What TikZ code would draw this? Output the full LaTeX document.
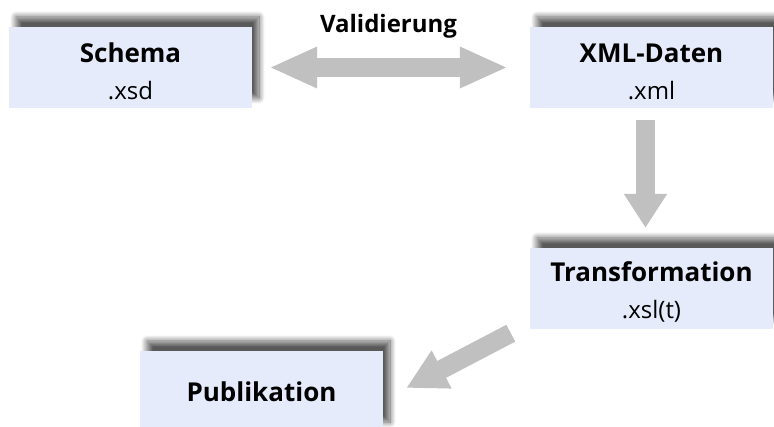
\documentclass[tikz,border=0pt]{standalone}
\usepackage{fontspec}
\setmainfont{Open Sans}
\usetikzlibrary{arrows.meta,shadows.blur}

\definecolor{boxfill}{RGB}{230,235,252}
\definecolor{arrowgray}{RGB}{192,192,192}

\tikzset{
	docbox/.style={fill=boxfill, minimum width=243pt, minimum height=81pt, inner sep=0pt, align=center,
		font=\fontsize{24}{37}\selectfont,
		blur shadow={shadow xshift=7pt, shadow yshift=10pt, shadow blur radius=6pt, shadow blur steps=12, shadow opacity=65}},
	blockarrow/.style={draw=arrowgray, line width=19pt},
}
\newcommand{\boxtitle}[1]{{\fontsize{26}{37}\selectfont\bfseries #1}}
\newcommand{\topstrut}{\rule{0pt}{27pt}}

\begin{document}
\begin{tikzpicture}[x=1pt,y=1pt]
	\useasboundingbox (0,0) rectangle (774,426);

\node[docbox] (schema) at (130.5,358.5) {\topstrut\boxtitle{Schema}\\.xsd};
\node[docbox] (xml) at (651.5,358.5) {\topstrut\boxtitle{XML-Daten}\\.xml};
\node[docbox] (trans) at (651.5,137.5) {\topstrut\boxtitle{Transformation}\\.xsl(t)};
\node[docbox] (publ) at (261.5,34.5) {\boxtitle{Publikation}};

	\draw[blockarrow, {Triangle[width=38pt,length=48pt]}-{Triangle[width=38pt,length=48pt]}]
		([xshift=17pt]schema.east) -- ([xshift=-22pt]xml.west)
		node[midway, yshift=41pt, text=black] (valid) {\fontsize{24}{28}\selectfont\bfseries Validierung};
	\draw[blockarrow, -{Triangle[width=41pt,length=34pt]}] ([shift={(-6pt,-12pt)}]xml.south) -- ([shift={(-6pt,20pt)}]trans.north);
	\draw[blockarrow, -{Triangle[width=40pt,length=40pt]}] ([shift={(-19pt,-4pt)}]trans.south west) -- ([shift={(23pt,3.5pt)}]publ.east);

\end{tikzpicture}
\end{document}
